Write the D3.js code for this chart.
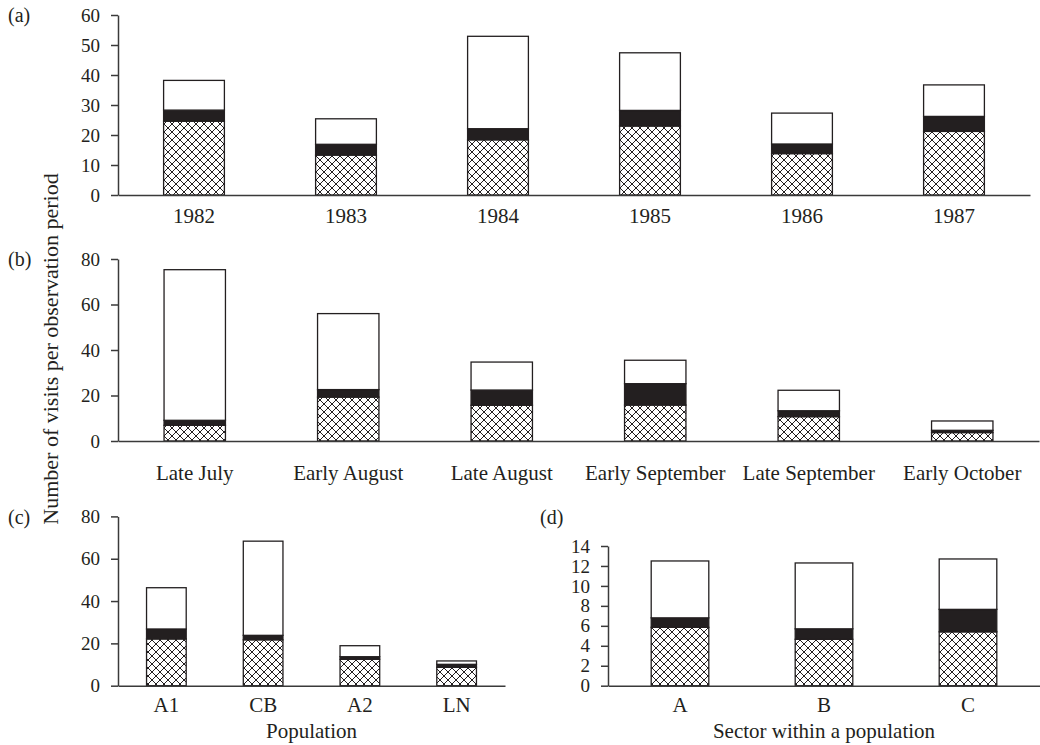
<!DOCTYPE html>
<html><head><meta charset="utf-8">
<script src="https://cdn.jsdelivr.net/npm/d3@7"></script>
<style>
body{margin:0;background:#fff;}
text{font-family:"Liberation Serif","Times New Roman",serif;fill:#231f20;}
</style></head>
<body><svg id="c" width="1040" height="745"></svg>
<script>
// ---- data ----
const catsA = ["1982","1983","1984","1985","1986","1987"];
const hatchA = [24.6,13.3,18.4,23.0,13.8,21.2];
const blackA = [3.7,3.6,3.7,5.2,3.2,5.0];
const whiteA = [9.9,8.5,30.8,19.2,10.3,10.5];
const ticksA = [0,10,20,30,40,50,60];

const catsB = ["Late July","Early August","Late August","Early September","Late September","Early October"];
const hatchB = [6.9,19.3,15.7,15.8,10.7,3.7];
const blackB = [2.2,3.3,6.7,9.4,2.6,1.0];
const whiteB = [66.2,33.4,12.3,10.3,9.0,4.1];
const ticksB = [0,20,40,60,80];

const catsC = ["A1","CB","A2","LN"];
const hatchC = [22.1,21.7,12.5,8.7];
const blackC = [4.7,2.1,1.2,1.4];
const whiteC = [19.5,44.5,5.2,1.6];
const ticksC = [0,20,40,60,80];

const catsD = ["A","B","C"];
const hatchD = [5.85,4.65,5.4];
const blackD = [0.95,1.05,2.25];
const whiteD = [5.7,6.6,5.05];
const ticksD = [0,2,4,6,8,10,12,14];

const yTitle = "Number of visits per observation period";

// ---- drawing ----
const svg = d3.select("#c");
const ink = "#231f20";
const defs = svg.append("defs");
const pat = defs.append("pattern").attr("id","xh").attr("patternUnits","userSpaceOnUse")
  .attr("width",8).attr("height",8);
pat.append("rect").attr("width",8).attr("height",8).attr("fill","#fff");
pat.append("path").attr("d","M0,0L8,8M8,0L0,8M-1,7L1,9M7,-1L9,1M-1,1L1,-1M7,9L9,7")
  .attr("stroke",ink).attr("stroke-width",1);

const fills = {hatch:"url(#xh)", black:ink, white:"#fff"};

function panel(o){
  const x = d3.scaleBand().domain(o.cats).range([o.x0,o.x1]).paddingInner(o.pad).paddingOuter(o.pad/2);
  const y = d3.scaleLinear().domain([0,o.max]).range([o.yb,o.yt]);
  const rows = o.cats.map((c,i)=>({cat:c,hatch:o.hatch[i],black:o.black[i],white:o.white[i]}));
  const series = d3.stack().keys(["hatch","black","white"])(rows);
  const g = svg.append("g");
  g.selectAll("g.s").data(series).join("g").attr("class","s")
    .attr("fill",d=>fills[d.key])
    .selectAll("rect").data(d=>d).join("rect")
    .attr("x",d=>x(d.data.cat)).attr("width",x.bandwidth())
    .attr("y",d=>y(d[1])).attr("height",d=>y(d[0])-y(d[1]))
    .attr("stroke",ink).attr("stroke-width",1.3);
  const ya = g.append("g").attr("transform",`translate(${o.x0},0)`)
    .call(d3.axisLeft(y).tickValues(o.ticks).tickSize(7).tickSizeOuter(0).tickPadding(11).tickFormat(d3.format("d")));
  ya.selectAll("text").attr("font-size",19).attr("font-family","Liberation Serif");
  const xa = g.append("g").attr("transform",`translate(0,${o.yb})`)
    .call(d3.axisBottom(x).tickSize(0).tickSizeOuter(0).tickPadding(o.lp));
  xa.selectAll("text").attr("font-size",o.fs||21).attr("font-family","Liberation Serif");
  [ya,xa].forEach(a=>{a.selectAll("path,line").attr("stroke","#3a3a3a").attr("stroke-width",1.5);});
  g.append("text").attr("x",o.lx).attr("y",o.ly).attr("font-size",20).text(o.label);
  if(o.title){
    g.append("text").attr("x",(o.x0+o.x1)/2).attr("y",738).attr("text-anchor","middle")
      .attr("font-size",21).text(o.title);
  }
}

panel({cats:catsA,hatch:hatchA,black:blackA,white:whiteA,ticks:ticksA,max:60,
  x0:118,x1:1030,yb:195,yt:15,pad:0.6,lp:13,label:"(a)",lx:8,ly:22});
panel({cats:catsB,hatch:hatchB,black:blackB,white:whiteB,ticks:ticksB,max:80,
  x0:118,x1:1039,yb:441,yt:259,pad:0.6,lp:24,label:"(b)",lx:8,ly:266});
panel({cats:catsC,hatch:hatchC,black:blackC,white:whiteC,ticks:ticksC,max:80,
  x0:118,x1:505,yb:685.7,yt:516.4,pad:0.59,lp:11,label:"(c)",lx:8,ly:524,title:"Population"});
panel({cats:catsD,hatch:hatchD,black:blackD,white:whiteD,ticks:ticksD,max:14,
  x0:608,x1:1040,yb:685.7,yt:546,pad:0.6,lp:11,label:"(d)",lx:540,ly:524,title:"Sector within a population"});

svg.append("text").attr("transform","translate(58,349) rotate(-90)")
  .attr("text-anchor","middle").attr("font-size",22).text(yTitle);
</script></body></html>
